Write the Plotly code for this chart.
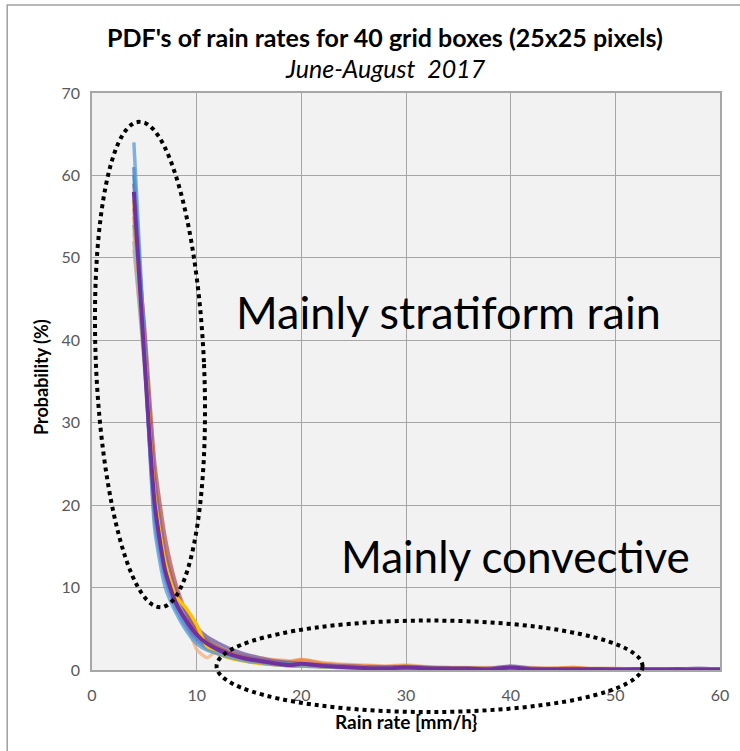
import math
import plotly.graph_objects as go

# ---- data ----
rain_rate = [4, 5, 6, 7, 8, 9, 10, 11, 12, 13, 14, 15, 16, 17, 18, 19, 20,
             22, 24, 26, 28, 30, 32, 34, 36, 38, 40, 42, 44, 46, 48, 50,
             52, 54, 56, 58, 60]

s_blue = [64, 40, 17, 10, 7.0, 4.8, 3.2, 2.4, 2.0, 1.6, 1.3, 1.0, 0.9, 0.7, 0.6, 0.5, 0.5,
          0.4, 0.3, 0.25, 0.2, 0.2, 0.15, 0.1, 0.15, 0.1, 0.1, 0.1, 0.05, 0.1, 0.05, 0.05,
          0.05, 0.1, 0.05, 0.05, 0.05]
s_orange = [55, 40, 22, 14, 9.5, 7.0, 4.5, 3.0, 2.3, 1.8, 1.6, 1.4, 1.3, 1.2, 1.1, 1.0, 1.2,
            0.8, 0.6, 0.5, 0.4, 0.5, 0.3, 0.3, 0.2, 0.2, 0.3, 0.2, 0.2, 0.3, 0.1, 0.1,
            0.1, 0.1, 0.1, 0.05, 0.05]
s_gray = [52, 37, 19, 12, 8.0, 6.0, 4.5, 3.5, 2.8, 2.2, 1.8, 1.4, 1.2, 1.0, 0.8, 0.7, 0.6,
          0.5, 0.4, 0.3, 0.25, 0.3, 0.2, 0.2, 0.15, 0.1, 0.2, 0.1, 0.1, 0.1, 0.05, 0.05,
          0.05, 0.05, 0.05, 0.05, 0.05]
s_yellow = [57, 39, 21, 13, 9.0, 7.5, 5.5, 2.8, 2.0, 1.5, 1.2, 1.0, 0.8, 0.7, 0.6, 0.5, 0.5,
            0.4, 0.3, 0.3, 0.2, 0.25, 0.2, 0.15, 0.1, 0.1, 0.15, 0.1, 0.1, 0.05, 0.05, 0.05,
            0.05, 0.05, 0.05, 0.05, 0.05]
s_darkblue = [61, 39, 18, 11, 7.5, 5.2, 3.6, 2.6, 2.0, 1.6, 1.3, 1.1, 0.9, 0.8, 0.7, 0.6, 0.5,
              0.4, 0.3, 0.25, 0.2, 0.2, 0.15, 0.1, 0.1, 0.1, 0.15, 0.1, 0.05, 0.05, 0.05, 0.05,
              0.05, 0.05, 0.05, 0.05, 0.05]
s_green = [54, 38, 21, 13, 9.0, 6.5, 4.8, 3.6, 2.7, 2.1, 1.7, 1.4, 1.2, 1.0, 0.9, 0.8, 0.7,
           0.5, 0.4, 0.35, 0.3, 0.45, 0.3, 0.2, 0.2, 0.15, 0.2, 0.15, 0.1, 0.1, 0.1, 0.05,
           0.05, 0.05, 0.05, 0.05, 0.05]
s_red = [56, 42, 25, 16, 10.5, 7.0, 4.8, 3.5, 2.8, 2.2, 1.8, 1.5, 1.2, 1.0, 0.9, 0.8, 0.7,
         0.6, 0.45, 0.4, 0.3, 0.4, 0.3, 0.2, 0.2, 0.15, 0.2, 0.15, 0.1, 0.1, 0.1, 0.1,
         0.05, 0.05, 0.05, 0.05, 0.05]
s_lightblue = [53, 39, 21, 13, 8.5, 6.5, 5.0, 4.0, 3.2, 2.6, 2.1, 1.7, 1.4, 1.2, 1.0, 0.9, 0.8,
               0.6, 0.5, 0.4, 0.3, 0.3, 0.25, 0.2, 0.15, 0.15, 0.2, 0.1, 0.1, 0.1, 0.1, 0.05,
               0.05, 0.05, 0.05, 0.05, 0.05]
s_salmon = [51, 38, 21, 14, 9.0, 6.0, 2.5, 1.5, 2.4, 2.2, 1.9, 1.7, 1.5, 1.3, 1.2, 1.1, 1.3,
            0.9, 0.7, 0.6, 0.5, 0.6, 0.4, 0.3, 0.3, 0.3, 0.4, 0.3, 0.2, 0.3, 0.2, 0.2,
            0.1, 0.1, 0.1, 0.1, 0.1]
s_lavender = [59, 41, 23, 14, 9.5, 7.0, 5.2, 4.0, 3.3, 2.7, 2.2, 1.8, 1.5, 1.2, 1.0, 0.9, 0.8,
              0.6, 0.5, 0.4, 0.35, 0.4, 0.3, 0.25, 0.2, 0.2, 0.5, 0.2, 0.15, 0.1, 0.1, 0.1,
              0.1, 0.1, 0.1, 0.2, 0.05]
s_teal = [60, 39, 19, 11.5, 8.0, 5.8, 4.0, 3.0, 2.4, 1.9, 1.5, 1.2, 1.0, 0.9, 0.8, 0.7, 0.6,
          0.45, 0.35, 0.3, 0.25, 0.3, 0.2, 0.15, 0.1, 0.1, 0.15, 0.1, 0.1, 0.05, 0.05, 0.05,
          0.05, 0.05, 0.05, 0.05, 0.05]
s_purple = [58, 38, 20, 12, 8.2, 6.0, 4.3, 3.2, 2.5, 2.0, 1.6, 1.3, 1.1, 0.9, 0.7, 0.6, 0.75,
            0.5, 0.35, 0.25, 0.2, 0.3, 0.2, 0.15, 0.15, 0.1, 0.3, 0.1, 0.1, 0.1, 0.1, 0.05,
            0.1, 0.05, 0.1, 0.05, 0.05]

series = [
    ("s1", s_salmon, "#F4B183"),
    ("s2", s_gray, "#A5A5A5"),
    ("s3", s_green, "#70AD47"),
    ("s4", s_lightblue, "#9DC3E6"),
    ("s5", s_orange, "#ED7D31"),
    ("s6", s_red, "#C0504D"),
    ("s7", s_lavender, "#8064A2"),
    ("s8", s_teal, "#4BACC6"),
    ("s9", s_darkblue, "#4472C4"),
    ("s10", s_yellow, "#FFC000"),
    ("s11", s_blue, "#5B9BD5"),
    ("s12", s_purple, "#7030A0"),
]

x_ticks = [0, 10, 20, 30, 40, 50, 60]
y_ticks = [0, 10, 20, 30, 40, 50, 60, 70]
X_RANGE = [0, 60]
Y_RANGE = [0, 70]

FONT = "Lato"
TICK_COLOR = "#595959"
GRID = "#A6A6A6"

W, H = 740, 751
ML, MR, MT, MB = 92, 20, 93, 81
PW, PH = W - ML - MR, H - MT - MB

fig = go.Figure()
for name, vals, col in series:
    fig.add_trace(go.Scatter(
        x=rain_rate, y=vals, mode="lines", name=name,
        line=dict(color=col, width=4 if name == "s12" else 3.5, shape="spline", smoothing=0.6),
        opacity=1.0 if name in ("s12", "s10") else 0.75,
        showlegend=False, hoverinfo="skip"))


def px(xv):
    return (xv - X_RANGE[0]) / (X_RANGE[1] - X_RANGE[0])


def py(yv):
    return (yv - Y_RANGE[0]) / (Y_RANGE[1] - Y_RANGE[0])


def tilted_ellipse_path(cx, cy, a_px, b_px, tilt, n=120):
    """Ellipse centred at data (cx, cy), semi-axes in pixels, tilted by `tilt` rad."""
    pts = []
    for i in range(n + 1):
        t = 2 * math.pi * i / n
        dx = a_px * math.cos(t) * math.cos(tilt) - b_px * math.sin(t) * math.sin(tilt)
        dy = a_px * math.cos(t) * math.sin(tilt) + b_px * math.sin(t) * math.cos(tilt)
        pts.append((px(cx) + dx / PW, py(cy) + dy / PH))
    return "M " + " L ".join(f"{x:.5f},{y:.5f}" for x, y in pts) + " Z"


shapes = [
    # stratiform ellipse (slightly tilted)
    dict(type="path", xref="paper", yref="paper",
         path=tilted_ellipse_path(5.54, 37.06, 54, 243, 0.045),
         line=dict(color="black", width=4, dash="dot"), layer="above"),
    # convective ellipse
    dict(type="circle", xref="paper", yref="paper",
         x0=px(11.9), x1=px(52.6), y0=py(-5.1), y1=py(6.0),
         line=dict(color="black", width=4, dash="dot"), layer="above"),
    # outer chart border
    dict(type="rect", xref="paper", yref="paper",
         x0=-0.135, x1=1.06, y0=-0.17, y1=1.1525,
         line=dict(color="#A0A0A0", width=1.5), layer="below"),
]

annotations = [
    dict(text="<b>PDF's of rain rates for 40 grid boxes (25x25 pixels)</b>",
         xref="paper", yref="paper", x=0.4666, y=1.097, showarrow=False,
         xanchor="center", yanchor="middle",
         font=dict(family=FONT, size=25, color="black")),
    dict(text="<i>June-August  2017</i>",
         xref="paper", yref="paper", x=0.4666, y=1.043, showarrow=False,
         xanchor="center", yanchor="middle",
         font=dict(family=FONT, size=25, color="black")),
    dict(text="<b>Probability (%)</b>", textangle=-90,
         xref="paper", yref="paper", x=-0.081, y=0.508, showarrow=False,
         xanchor="center", yanchor="middle",
         font=dict(family=FONT, size=18, color="black")),
    dict(text="<b>Rain rate [mm/h}</b>",
         xref="paper", yref="paper", x=0.5, y=-0.09, showarrow=False,
         xanchor="center", yanchor="middle",
         font=dict(family=FONT, size=19, color="black")),
    dict(text="Mainly stratiform rain", xref="x", yref="y", x=34.1, y=43.4,
         xanchor="center", yanchor="middle",
         showarrow=False, font=dict(family=FONT, size=45, color="black")),
    dict(text="Mainly convective", xref="x", yref="y", x=40.5, y=13.8,
         xanchor="center", yanchor="middle",
         showarrow=False, font=dict(family=FONT, size=44, color="black")),
]

fig.update_layout(
    width=W, height=H,
    margin=dict(l=ML, r=MR, t=MT, b=MB),
    paper_bgcolor="white", plot_bgcolor="#F2F2F2",
    font=dict(family=FONT, color=TICK_COLOR, size=14),
    shapes=shapes, annotations=annotations,
)
fig.update_xaxes(range=X_RANGE, tickvals=x_ticks, ticktext=[str(v) for v in x_ticks],
                 showgrid=True, gridcolor=GRID, gridwidth=1,
                 showline=True, linecolor=GRID, linewidth=1.5, mirror=True,
                 zeroline=False, ticks="outside", ticklen=10, tickcolor="rgba(0,0,0,0)",
                 tickfont=dict(family=FONT, size=16, color=TICK_COLOR))
fig.update_yaxes(range=Y_RANGE, tickvals=y_ticks, ticktext=[str(v) for v in y_ticks],
                 showgrid=True, gridcolor=GRID, gridwidth=1,
                 showline=True, linecolor=GRID, linewidth=1.5, mirror=True,
                 zeroline=False, ticks="outside", ticklen=7, tickcolor="rgba(0,0,0,0)",
                 tickfont=dict(family=FONT, size=16, color=TICK_COLOR))

fig.write_html("out.html", config={"displayModeBar": False},
               post_script="document.body.style.margin='0';")
